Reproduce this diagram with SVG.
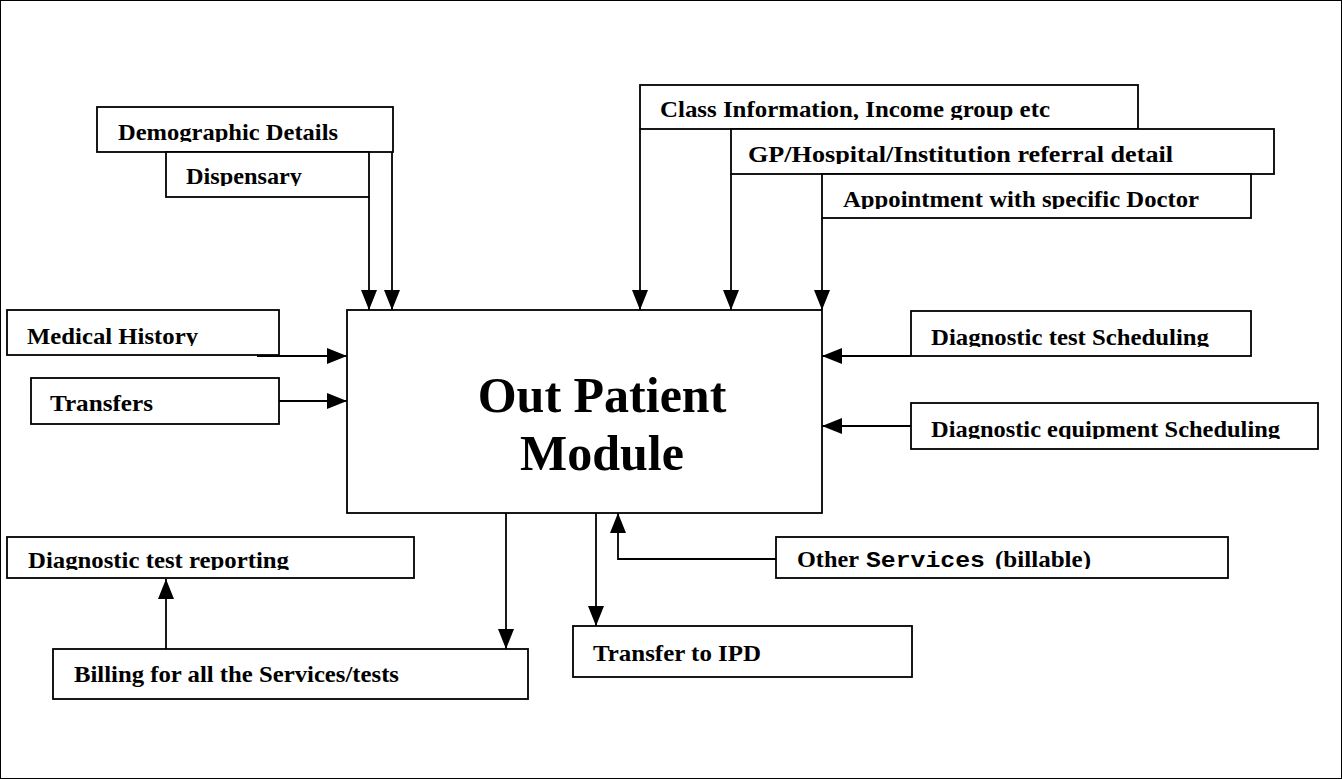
<svg xmlns="http://www.w3.org/2000/svg" width="1342" height="779" viewBox="0 0 1342 779">
<style>
.box{fill:#fff;stroke:#000;stroke-width:1.8}
.lbl{font-family:"Liberation Serif","Times New Roman",serif;font-weight:bold;font-size:23px;fill:#000}
.mono{font-family:"Liberation Mono","Courier New",monospace;font-weight:bold;font-size:22px;fill:#000}
.main{font-family:"Liberation Serif","Times New Roman",serif;font-weight:bold;font-size:50px;fill:#000;text-anchor:middle}
.ln{fill:none;stroke:#000;stroke-width:1.8}
</style>
<defs>
<marker id="ah" markerUnits="userSpaceOnUse" markerWidth="20" markerHeight="18" refX="20" refY="8" orient="auto" viewBox="0 0 20 16">
<path d="M0,0 L20,8 L0,16 z" fill="#000"/>
</marker>
<clipPath id="c1"><rect x="97" y="107" width="296" height="35"/></clipPath>
<clipPath id="c2"><rect x="166" y="152" width="203" height="34"/></clipPath>
<clipPath id="c3"><rect x="640" y="85" width="498" height="35"/></clipPath>
<clipPath id="c4"><rect x="731" y="129" width="543" height="35"/></clipPath>
<clipPath id="c5"><rect x="822" y="174" width="429" height="35"/></clipPath>
<clipPath id="c6"><rect x="7" y="310" width="272" height="36"/></clipPath>
<clipPath id="c8"><rect x="911" y="311" width="340" height="36"/></clipPath>
<clipPath id="c9"><rect x="911" y="403" width="407" height="36"/></clipPath>
<clipPath id="c10"><rect x="7" y="537" width="407" height="33"/></clipPath>
<clipPath id="c13"><rect x="776" y="537" width="452" height="32"/></clipPath>
</defs>
<rect x="0" y="0" width="1342" height="779" fill="#fff"/>
<rect x="0.5" y="0.5" width="1341" height="778" fill="none" stroke="#000" stroke-width="1"/>

<g id="connectors">
<line class="ln" x1="369" y1="197" x2="369" y2="310" marker-end="url(#ah)"/>
<line class="ln" x1="392" y1="152" x2="392" y2="310" marker-end="url(#ah)"/>
<line class="ln" x1="640" y1="129" x2="640" y2="310" marker-end="url(#ah)"/>
<line class="ln" x1="731" y1="174" x2="731" y2="310" marker-end="url(#ah)"/>
<line class="ln" x1="822" y1="218" x2="822" y2="310" marker-end="url(#ah)"/>
<line class="ln" x1="257" y1="356" x2="347" y2="356" marker-end="url(#ah)"/>
<line class="ln" x1="279" y1="401" x2="347" y2="401" marker-end="url(#ah)"/>
<line class="ln" x1="911" y1="356" x2="822" y2="356" marker-end="url(#ah)"/>
<line class="ln" x1="911" y1="426" x2="822" y2="426" marker-end="url(#ah)"/>
<line class="ln" x1="506" y1="513" x2="506" y2="649" marker-end="url(#ah)"/>
<line class="ln" x1="596" y1="513" x2="596" y2="626" marker-end="url(#ah)"/>
<polyline class="ln" points="776,559 618,559 618,513" marker-end="url(#ah)"/>
<line class="ln" x1="166" y1="649" x2="166" y2="579" marker-end="url(#ah)"/>
</g>

<g id="main">
<rect class="box" x="347" y="310" width="475" height="203"/>
<text class="main" x="602" y="412">Out Patient</text>
<text class="main" x="602" y="470">Module</text>
</g>

<g id="demographic">
<rect class="box" x="97" y="107" width="296" height="45"/>
<text class="lbl" x="118" y="140" textLength="220" lengthAdjust="spacingAndGlyphs" clip-path="url(#c1)">Demographic Details</text>
</g>
<g id="dispensary">
<rect class="box" x="166" y="152" width="203" height="45"/>
<text class="lbl" x="186" y="184" textLength="116" lengthAdjust="spacingAndGlyphs" clip-path="url(#c2)">Dispensary</text>
</g>
<g id="class-info">
<rect class="box" x="640" y="85" width="498" height="44"/>
<text class="lbl" x="660" y="117" textLength="390" lengthAdjust="spacingAndGlyphs" clip-path="url(#c3)">Class Information, Income group etc</text>
</g>
<g id="gp-referral">
<rect class="box" x="731" y="129" width="543" height="45"/>
<text class="lbl" x="748" y="162" textLength="425" lengthAdjust="spacingAndGlyphs" clip-path="url(#c4)">GP/Hospital/Institution referral detail</text>
</g>
<g id="appointment">
<rect class="box" x="822" y="174" width="429" height="44"/>
<text class="lbl" x="843" y="207" textLength="356" lengthAdjust="spacingAndGlyphs" clip-path="url(#c5)">Appointment with specific Doctor</text>
</g>
<g id="medical-history">
<rect class="box" x="7" y="310" width="272" height="45"/>
<text class="lbl" x="27" y="344" textLength="171" lengthAdjust="spacingAndGlyphs" clip-path="url(#c6)">Medical History</text>
</g>
<g id="transfers">
<rect class="box" x="31" y="378" width="248" height="46"/>
<text class="lbl" x="50" y="411" textLength="103" lengthAdjust="spacingAndGlyphs">Transfers</text>
</g>
<g id="diag-test-scheduling">
<rect class="box" x="911" y="311" width="340" height="45"/>
<text class="lbl" x="931" y="345" textLength="278" lengthAdjust="spacingAndGlyphs" clip-path="url(#c8)">Diagnostic test Scheduling</text>
</g>
<g id="diag-equipment-scheduling">
<rect class="box" x="911" y="403" width="407" height="46"/>
<text class="lbl" x="931" y="437" textLength="349" lengthAdjust="spacingAndGlyphs" clip-path="url(#c9)">Diagnostic equipment Scheduling</text>
</g>
<g id="diag-test-reporting">
<rect class="box" x="7" y="537" width="407" height="41"/>
<text class="lbl" x="28" y="568" textLength="261" lengthAdjust="spacingAndGlyphs" clip-path="url(#c10)">Diagnostic test reporting</text>
</g>
<g id="billing">
<rect class="box" x="53" y="649" width="475" height="50"/>
<text class="lbl" x="74" y="682" textLength="325" lengthAdjust="spacingAndGlyphs">Billing for all the Services/tests</text>
</g>
<g id="transfer-ipd">
<rect class="box" x="573" y="626" width="339" height="51"/>
<text class="lbl" x="593" y="661" textLength="168" lengthAdjust="spacingAndGlyphs">Transfer to IPD</text>
</g>
<g id="other-services">
<rect class="box" x="776" y="537" width="452" height="41"/>
<g clip-path="url(#c13)">
<text class="lbl" x="797" y="567" textLength="62" lengthAdjust="spacingAndGlyphs">Other</text>
<text class="mono" x="866" y="567" textLength="119" lengthAdjust="spacingAndGlyphs">Services</text>
<text class="lbl" x="995" y="567" textLength="96" lengthAdjust="spacingAndGlyphs">(billable)</text>
</g>
</g>
</svg>
